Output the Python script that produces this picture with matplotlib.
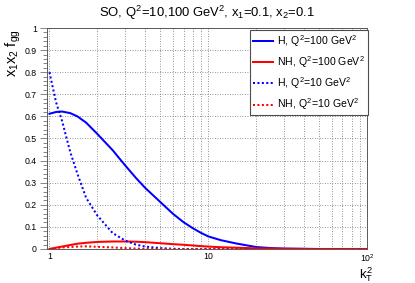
import matplotlib
matplotlib.use("Agg")
import matplotlib.pyplot as plt
from matplotlib.ticker import FixedLocator, MultipleLocator, NullFormatter

plt.rcParams['font.family'] = ['Liberation Sans', 'DejaVu Sans']
plt.rcParams['mathtext.fontset'] = 'custom'
plt.rcParams['mathtext.rm'] = 'Liberation Sans'
plt.rcParams['mathtext.it'] = 'Liberation Sans'
plt.rcParams['mathtext.bf'] = 'Liberation Sans:bold'

# values
kt2 = [1, 1.1, 1.2, 1.35, 1.5, 1.7, 2, 2.5, 3, 3.5, 4, 5, 6, 7, 8, 9, 10,
       12, 15, 20, 25, 30, 40, 50, 70, 100]
h_q100 = [0.612, 0.620, 0.622, 0.615, 0.600, 0.572, 0.521, 0.447, 0.378, 0.322,
          0.277, 0.212, 0.159, 0.121, 0.094, 0.073, 0.057, 0.040, 0.025, 0.009,
          0.004, 0.002, 0.001, 0, 0, 0]
nh_q100 = [0, 0.006, 0.011, 0.018, 0.024, 0.028, 0.032, 0.034, 0.034, 0.033,
           0.031, 0.026, 0.022, 0.019, 0.016, 0.013, 0.011, 0.008, 0.006, 0.003,
           0.002, 0.001, 0, 0, 0, 0]
h_q10 = [0.80, 0.664, 0.58, 0.44, 0.34, 0.232, 0.152, 0.072, 0.038, 0.020,
         0.011, 0.004, 0.001, 0, 0, 0, 0, 0, 0, 0, 0, 0, 0, 0, 0, 0]
nh_q10 = [0, 0.004, 0.007, 0.009, 0.011, 0.012, 0.010, 0.007, 0.004, 0.002,
          0.001, 0, 0, 0, 0, 0, 0, 0, 0, 0, 0, 0, 0, 0, 0, 0]

labels = [r'H, $Q^{2}$=100 GeV$^{2}$', r'NH, $Q^{2}$=100 GeV$^{2}$',
          r'H, $Q^{2}$=10 GeV$^{2}$', r'NH, $Q^{2}$=10 GeV$^{2}$']

W, H = 415, 283
fig = plt.figure(figsize=(W / 100, H / 100), dpi=100)
ax = fig.add_axes([47.3 / W, 1 - 249 / H, (367 - 47.3) / W, (249 - 28) / H])

lw = 1.45
dots = (0, (1, 1.2))
ax.plot(kt2, h_q100, color='#0000ff', lw=lw, label=labels[0])
ax.plot(kt2, nh_q100, color='#ff0000', lw=lw, label=labels[1])
ax.plot(kt2, h_q10, color='#0000ff', lw=lw, ls=dots, dash_capstyle='butt', label=labels[2])
ax.plot(kt2, nh_q10, color='#ff0000', lw=lw, ls=dots, dash_capstyle='butt', label=labels[3])

ax.set_xscale('log')
ax.set_xlim(0.969, 100)
ax.set_ylim(0, 1)

ax.xaxis.set_major_locator(FixedLocator([1, 10, 100]))
ax.xaxis.set_minor_locator(FixedLocator([2, 3, 4, 5, 6, 7, 8, 9,
                                         20, 30, 40, 50, 60, 70, 80, 90]))
ax.set_xticklabels(['1', '10', r'$10^{2}$'])
ax.xaxis.set_minor_formatter(NullFormatter())
ax.yaxis.set_major_locator(MultipleLocator(0.1))
ax.yaxis.set_minor_locator(MultipleLocator(0.02))
ax.yaxis.set_major_formatter(plt.FuncFormatter(lambda v, p: '%g' % round(v, 2)))

ax.tick_params(axis='x', which='both', length=0, labelsize=6.3, pad=2.5)
ax.tick_params(axis='y', which='major', direction='out', length=5, width=0.6,
               color='0.45', labelsize=6.3, pad=2.5)
ax.tick_params(axis='y', which='minor', direction='out', length=3, width=0.6,
               color='0.45')

grid_kw = dict(color='0.45', lw=0.6, ls=(0, (1, 2)))
ax.grid(True, which='major', axis='both', **grid_kw)
ax.grid(True, which='minor', axis='x', **grid_kw)
ax.set_axisbelow(True)
for s in ax.spines.values():
    s.set_linewidth(0.7)
    s.set_color('0.35')

fig.text(207 / W, 1 - 13 / H, r'SO, $Q^{2}$=10,100 GeV$^{2}$, $x_{1}$=0.1, $x_{2}$=0.1',
         ha='center', va='center', fontsize=9.4)
fig.text(373 / W, 1 - 278 / H, r'$k_{T}^{2}$', ha='right', va='baseline', fontsize=9.5)
fig.text(13 / W, 1 - 29 / H, r'$x_{1}x_{2}$ f$_{gg}$', ha='center', va='top',
         rotation=90, fontsize=10.5)

leg = ax.legend(loc='upper right', bbox_to_anchor=(368 / W, 1 - 30 / H),
                bbox_transform=fig.transFigure, borderaxespad=0, fontsize=7.6,
                fancybox=False, framealpha=1, edgecolor='0.3',
                handlelength=1.9, handletextpad=0.4, labelspacing=0.5,
                borderpad=0.3)
leg.get_frame().set_linewidth(0.8)

fig.savefig('out.png', dpi=100)
